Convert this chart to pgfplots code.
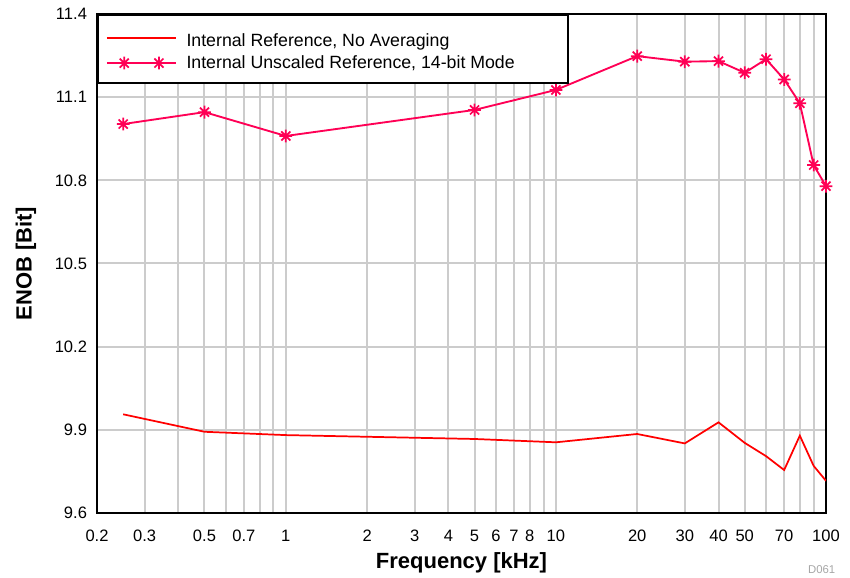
\documentclass[border=0pt]{standalone}
\usepackage{pgfplots}
\pgfplotsset{compat=1.18}
\usepackage{fontspec}
\setmainfont{Liberation Sans}

\definecolor{lineA}{RGB}{255,0,0}
\definecolor{lineB}{RGB}{255,0,85}
\definecolor{gridgray}{RGB}{204,204,204}

% eight-arm star like the original marker
\pgfdeclareplotmark{star8}{%
  \pgfpathmoveto{\pgfqpoint{-\pgfplotmarksize}{0pt}}%
  \pgfpathlineto{\pgfqpoint{\pgfplotmarksize}{0pt}}%
  \pgfpathmoveto{\pgfqpoint{0pt}{-\pgfplotmarksize}}%
  \pgfpathlineto{\pgfqpoint{0pt}{\pgfplotmarksize}}%
  \pgfpathmoveto{\pgfpointpolar{45}{\pgfplotmarksize}}%
  \pgfpathlineto{\pgfpointpolar{225}{\pgfplotmarksize}}%
  \pgfpathmoveto{\pgfpointpolar{135}{\pgfplotmarksize}}%
  \pgfpathlineto{\pgfpointpolar{315}{\pgfplotmarksize}}%
  \pgfusepathqstroke}

\begin{document}
\begin{tikzpicture}
\path[use as bounding box] (-72.75pt,-48.75pt) rectangle (564.75pt,384.75pt);
\begin{axis}[
  at={(0,0)}, anchor=south west,
  scale only axis, width=546.75pt, height=374.25pt,
  xmode=log, xmin=0.2, xmax=100,
  ymin=9.6, ymax=11.4,
  ytick={9.6,9.9,10.2,10.5,10.8,11.1,11.4},
  xtick={0.2,0.3,0.4,0.5,0.6,0.7,0.8,0.9,1,2,3,4,5,6,7,8,9,10,20,30,40,50,60,70,80,90,100},
  xticklabels={0.2,0.3,,0.5,,0.7,,,1,2,3,4,5,6,7,8,,10,20,30,40,50,,70,,,100},
  /pgf/number format/assume math mode=true,
  tick label style={font=\fontsize{12.4pt}{14pt}\selectfont},
  xticklabel style={yshift=-9.5pt},
  yticklabel style={xshift=-4pt, /pgf/number format/.cd, fixed, fixed zerofill, precision=1},
  major tick length=0pt,
  xtick align=inside, ytick align=inside,
  grid=major,
  major grid style={color=gridgray, line width=1.5pt},
  axis line style={line width=2pt},
  xlabel={\textbf{Frequency [kHz]}},
  ylabel={\textbf{ENOB [Bit]}},
  label style={font=\fontsize{16.5pt}{19pt}\selectfont},
  xlabel style={yshift=-1pt},
  ylabel style={yshift=7pt},
  legend style={at={(0,1)}, anchor=north west, draw=black, line width=1.5pt,
    font=\fontsize{13.3pt}{17pt}\selectfont, inner xsep=6pt, inner ysep=7.5pt,
    row sep=1.5pt, /tikz/every odd column/.append style={column sep=5pt}},
  legend cell align=left,
  legend image code/.code={%
    \draw[#1, mark repeat=2, mark phase=2]
      plot coordinates {(0pt,0pt)(13pt,0pt)(26pt,0pt)(39pt,0pt)(52pt,0pt)};},
]
\addplot[color=lineA, line width=1.3pt] coordinates {
  (0.25,9.956) (0.5,9.893) (1,9.881) (5,9.867) (10,9.855) (20,9.885)
  (30,9.851) (40,9.927) (50,9.853) (60,9.805) (70,9.755) (80,9.879)
  (90,9.770) (100,9.716)
};
\addlegendentry{\makebox[278pt][l]{\rule{0pt}{14pt}Internal Reference, No Averaging}}
\addplot[color=lineB, line width=1.4pt, mark=star8, mark size=4.8pt,
  mark options={line width=1.3pt}] coordinates {
  (0.25,11.003) (0.5,11.046) (1,10.960) (5,11.054) (10,11.126) (20,11.248)
  (30,11.228) (40,11.230) (50,11.188) (60,11.237) (70,11.164) (80,11.078)
  (90,10.855) (100,10.779)
};
\addlegendentry{\makebox[278pt][l]{Internal Unscaled Reference, 14-bit Mode}}
\end{axis}
\node[anchor=east, text=gray!70, font=\fontsize{8.5pt}{10pt}\selectfont]
  at (557.25pt,-42.75pt) {D061};
\end{tikzpicture}
\end{document}
